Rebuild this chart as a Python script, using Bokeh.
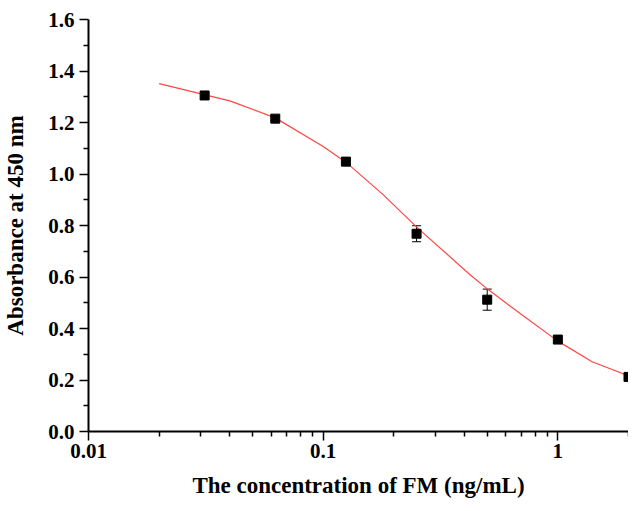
from bokeh.plotting import figure
from bokeh.models import ColumnDataSource, Whisker, TeeHead, FixedTicker, Range1d
from bokeh.embed import file_html
from bokeh.resources import INLINE

# measured points
conc = [0.03125, 0.0625, 0.125, 0.25, 0.5, 1.0, 2.0]
absorb = [1.305, 1.215, 1.048, 0.768, 0.512, 0.357, 0.212]
err = [0.010, 0.008, 0.015, 0.031, 0.041, 0.010, 0.010]

# fitted curve
curve_x = [0.02, 0.04, 0.0625, 0.1, 0.125, 0.18, 0.255, 0.425, 0.5, 0.7, 1.0, 1.4, 2.0]
curve_y = [1.351, 1.284, 1.218, 1.107, 1.046, 0.92, 0.787, 0.607, 0.554, 0.454, 0.351, 0.271, 0.216]

x_major = [0.01, 0.1, 1.0]
x_major_labels = ["0.01", "0.1", "1"]
x_minor = [0.02, 0.03, 0.04, 0.05, 0.06, 0.07, 0.08, 0.09,
           0.2, 0.3, 0.4, 0.5, 0.6, 0.7, 0.8, 0.9, 2.0]
y_major = [0.0, 0.2, 0.4, 0.6, 0.8, 1.0, 1.2, 1.4, 1.6]
y_minor = [0.1, 0.3, 0.5, 0.7, 0.9, 1.1, 1.3, 1.5]

FONT = "Liberation Serif"

p = figure(width=628, height=500, x_axis_type="log",
           x_range=Range1d(0.01, 2.0), y_range=Range1d(0.0, 1.6),
           output_backend="svg", toolbar_location=None,
           min_border_left=83, min_border_right=0,
           min_border_top=19, min_border_bottom=58)
p.outline_line_color = None
p.xgrid.visible = False
p.ygrid.visible = False
p.background_fill_color = "white"
p.border_fill_color = "white"

p.line(curve_x, curve_y, line_color="#ff4646", line_width=1.2)

src = ColumnDataSource(dict(
    x=conc, y=absorb,
    upper=[a + e for a, e in zip(absorb, err)],
    lower=[a - e for a, e in zip(absorb, err)],
))
wh = Whisker(source=src, base="x", upper="upper", lower="lower",
             dimension="height", line_color="black", line_width=1,
             upper_head=TeeHead(size=9, line_color="black", line_width=1),
             lower_head=TeeHead(size=9, line_color="black", line_width=1))
p.add_layout(wh)
p.scatter("x", "y", source=src, marker="square", size=9,
          fill_color="black", line_color="black")

for ax in (p.xaxis[0], p.yaxis[0]):
    ax.axis_line_width = 2
    ax.axis_line_color = "black"
    ax.major_tick_line_width = 1.5
    ax.minor_tick_line_width = 1.5
    ax.major_tick_line_color = "black"
    ax.minor_tick_line_color = "black"
    ax.major_tick_in = 0
    ax.major_tick_out = 9
    ax.minor_tick_in = 0
    ax.minor_tick_out = 5
    ax.major_label_text_font = FONT
    ax.major_label_text_font_style = "bold"
    ax.major_label_text_font_size = "21px"
    ax.major_label_text_color = "black"
    ax.axis_label_text_font = FONT
    ax.axis_label_text_font_style = "bold"
    ax.axis_label_text_font_size = "23px"
    ax.axis_label_text_color = "black"

p.xaxis.ticker = FixedTicker(ticks=x_major, minor_ticks=x_minor)
p.xaxis.major_label_overrides = {v: s for v, s in zip(x_major, x_major_labels)}
p.xaxis.axis_label = "The concentration of FM (ng/mL)"
p.xaxis.major_label_standoff = 3
p.xaxis.axis_label_standoff = 12

p.yaxis.ticker = FixedTicker(ticks=y_major, minor_ticks=y_minor)
p.yaxis.major_label_overrides = {v: f"{v:.1f}" for v in y_major}
p.yaxis.axis_label = "Absorbance at 450 nm"
p.yaxis.major_label_standoff = 5
p.yaxis.axis_label_standoff = 17

open("out.html", "w").write(file_html(p, INLINE))
